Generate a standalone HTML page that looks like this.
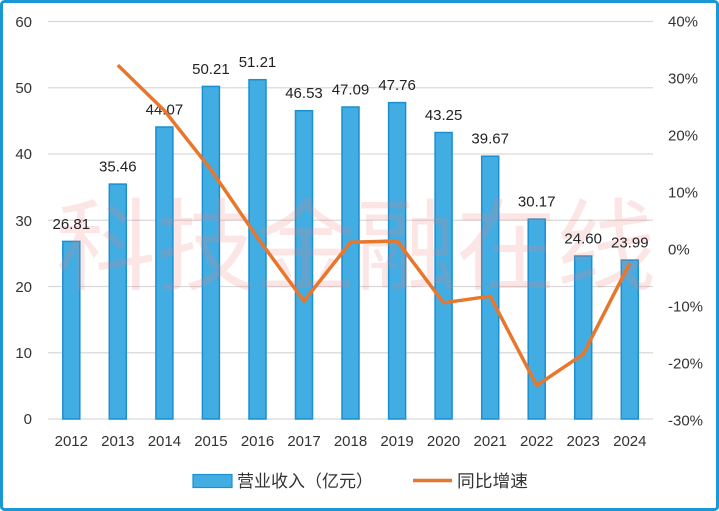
<!DOCTYPE html>
<html><head><meta charset="utf-8"><style>
html,body{margin:0;padding:0;background:#fff;}
svg{display:block;}
</style></head><body>
<svg width="719" height="511" viewBox="0 0 719 511" xmlns="http://www.w3.org/2000/svg">
<rect x="0" y="0" width="719" height="511" fill="#fff"/>
<rect x="1.5" y="1.5" width="716" height="508" rx="3" fill="none" stroke="#1a98d5" stroke-width="3"/>
<g stroke="#d9d9d9" stroke-width="1.2">
<line x1="48" x2="653" y1="21.5" y2="21.5"/>
<line x1="48" x2="653" y1="87.75" y2="87.75"/>
<line x1="48" x2="653" y1="154" y2="154"/>
<line x1="48" x2="653" y1="220.25" y2="220.25"/>
<line x1="48" x2="653" y1="286.5" y2="286.5"/>
<line x1="48" x2="653" y1="352.75" y2="352.75"/>
<line x1="48" x2="653" y1="419" y2="419"/>
</g>
<g font-family="Liberation Sans, sans-serif" font-size="15" fill="#333" text-anchor="end">
<text x="32" y="27">60</text>
<text x="32" y="93">50</text>
<text x="32" y="159">40</text>
<text x="32" y="226">30</text>
<text x="32" y="292">20</text>
<text x="32" y="358">10</text>
<text x="32" y="424">0</text>
</g>
<g font-family="Liberation Sans, sans-serif" font-size="15" fill="#333" text-anchor="start">
<text x="668" y="26.5">40%</text>
<text x="668" y="83.5">30%</text>
<text x="668" y="140.5">20%</text>
<text x="668" y="197.5">10%</text>
<text x="668" y="254.5">0%</text>
<text x="668" y="311.5">-10%</text>
<text x="668" y="368.5">-20%</text>
<text x="668" y="425.5">-30%</text>
</g>
<g fill="#42ade2" stroke="#1b8fd0" stroke-width="1.5">
<rect x="62.8" y="241.4" width="17" height="177.6"/>
<rect x="109.3" y="184.1" width="17" height="234.9"/>
<rect x="155.9" y="127.0" width="17" height="292.0"/>
<rect x="202.4" y="86.4" width="17" height="332.6"/>
<rect x="249.0" y="79.7" width="17" height="339.3"/>
<rect x="295.5" y="110.7" width="17" height="308.3"/>
<rect x="342.0" y="107.0" width="17" height="312.0"/>
<rect x="388.6" y="102.6" width="17" height="316.4"/>
<rect x="435.1" y="132.5" width="17" height="286.5"/>
<rect x="481.7" y="156.2" width="17" height="262.8"/>
<rect x="528.2" y="219.1" width="17" height="199.9"/>
<rect x="574.7" y="256.0" width="17" height="163.0"/>
<rect x="621.3" y="260.1" width="17" height="158.9"/>
</g>
<text x="356" y="282" font-family="Noto Sans CJK SC, sans-serif" font-size="100" fill="#ee7f7f" fill-opacity="0.2" text-anchor="middle" textLength="600" lengthAdjust="spacingAndGlyphs">科技金融在线</text>
<g font-family="Liberation Sans, sans-serif" font-size="15" fill="#222" text-anchor="middle">
<text x="71.3" y="228.9">26.81</text>
<text x="117.8" y="171.6">35.46</text>
<text x="164.4" y="114.5">44.07</text>
<text x="210.9" y="73.9">50.21</text>
<text x="257.5" y="67.2">51.21</text>
<text x="304.0" y="98.2">46.53</text>
<text x="350.5" y="94.5">47.09</text>
<text x="397.1" y="90.1">47.76</text>
<text x="443.6" y="120.0">43.25</text>
<text x="490.2" y="143.7">39.67</text>
<text x="536.7" y="206.6">30.17</text>
<text x="583.2" y="243.5">24.60</text>
<text x="629.8" y="247.6">23.99</text>
</g>
<polyline fill="none" stroke="#e8772e" stroke-width="3.5" stroke-linejoin="round" points="117.8,65.1 164.4,110.6 210.9,169.6 257.5,237.7 304.0,301.1 350.5,242.2 397.1,240.9 443.6,302.8 490.2,296.2 536.7,385.5 583.2,354.2 629.8,263.1"/>
<g font-family="Liberation Sans, sans-serif" font-size="15" fill="#333" text-anchor="middle">
<text x="71.3" y="446">2012</text>
<text x="117.8" y="446">2013</text>
<text x="164.4" y="446">2014</text>
<text x="210.9" y="446">2015</text>
<text x="257.5" y="446">2016</text>
<text x="304.0" y="446">2017</text>
<text x="350.5" y="446">2018</text>
<text x="397.1" y="446">2019</text>
<text x="443.6" y="446">2020</text>
<text x="490.2" y="446">2021</text>
<text x="536.7" y="446">2022</text>
<text x="583.2" y="446">2023</text>
<text x="629.8" y="446">2024</text>
</g>
<rect x="193" y="474.5" width="39" height="13" fill="#42ade2" stroke="#1b8fd0" stroke-width="1.2"/>
<text x="237" y="487" font-family="Noto Sans CJK SC, sans-serif" font-size="17" fill="#333" textLength="136" lengthAdjust="spacingAndGlyphs">营业收入（亿元）</text>
<line x1="413" x2="452" y1="480.5" y2="480.5" stroke="#e8772e" stroke-width="3.5"/>
<text x="457" y="487" font-family="Noto Sans CJK SC, sans-serif" font-size="17" fill="#333" textLength="71" lengthAdjust="spacingAndGlyphs">同比增速</text>
</svg>
</body></html>
